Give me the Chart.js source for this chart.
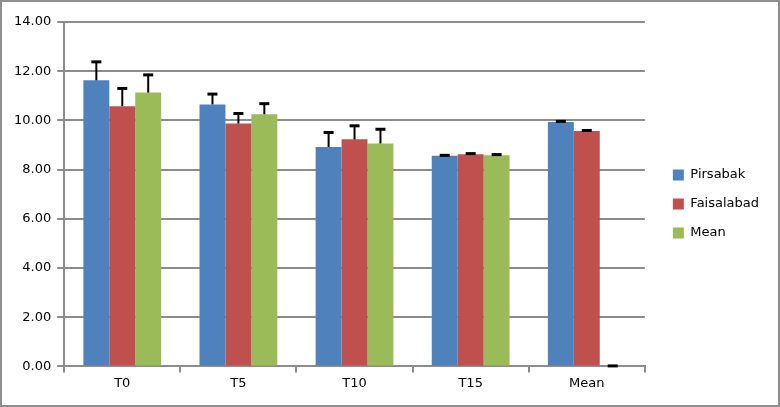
<!DOCTYPE html>
<html>
<head>
<meta charset="utf-8">
<script src="https://cdn.jsdelivr.net/npm/chart.js@4.4.1/dist/chart.umd.min.js"></script>
<style>
    html, body { margin: 0; padding: 0; background: #fff; }
    #wrap {
        position: relative;
        width: 780px;
        height: 407px;
        box-sizing: border-box;
        border: 2px solid #8f8f8f;
    }
</style>
</head>
<body>
<div id="wrap"><canvas id="chart"></canvas></div>
<script>
// categories and series
const categories = ["T0", "T5", "T10", "T15", "Mean"];

const pirsabak = [11.63, 10.65, 8.92, 8.56, 9.94];
const faisalabad = [10.58, 9.87, 9.23, 8.62, 9.57];
const meanValues = [11.13, 10.25, 9.06, 8.58, 0];

// upper error amounts
const pirsabakErr = [0.75, 0.42, 0.59, 0.02, 0.02];
const faisalabadErr = [0.72, 0.41, 0.55, 0.03, 0.02];
const meanErr = [0.72, 0.43, 0.58, 0.03, 0.02];

const yTicks = [0, 2, 4, 6, 8, 10, 12, 14];

const errors = [pirsabakErr, faisalabadErr, meanErr];

// draws the upper error bar with a cap on every bar
const errorBars = {
    id: "errorBars",
    afterDatasetsDraw(chart) {
        const ctx = chart.ctx;
        const y = chart.scales.y;
        ctx.save();
        ctx.strokeStyle = "#000";
        chart.data.datasets.forEach((ds, i) => {
            const meta = chart.getDatasetMeta(i);
            meta.data.forEach((bar, j) => {
                const top = y.getPixelForValue(ds.data[j] + errors[i][j]);
                ctx.lineWidth = 2;
                ctx.beginPath();
                ctx.moveTo(bar.x, bar.y);
                ctx.lineTo(bar.x, top);
                ctx.stroke();
                ctx.lineWidth = 3;
                ctx.beginPath();
                ctx.moveTo(bar.x - 5, top);
                ctx.lineTo(bar.x + 5, top);
                ctx.stroke();
            });
        });
        ctx.restore();
    },
};

// push the legend a bit further away from the plot
const legendGap = {
    id: "legendGap",
    afterLayout(chart) {
        chart.legend.left += 12;
        chart.legend.right += 12;
        chart.legend.top -= 4;
        chart.legend.bottom -= 4;
    },
};

const gridGray = "#8c8c8c";
const font = { family: "DejaVu Sans", size: 13 };

new Chart(document.getElementById("chart").getContext("2d"), {
    type: "bar",
    data: {
        labels: categories,
        datasets: [
            { label: "Pirsabak", data: pirsabak, backgroundColor: "#4f81bd" },
            { label: "Faisalabad", data: faisalabad, backgroundColor: "#c0504d" },
            { label: "Mean", data: meanValues, backgroundColor: "#9bbb59" },
        ],
    },
    options: {
        responsive: true,
        maintainAspectRatio: false,
        animation: false,
        datasets: {
            bar: { categoryPercentage: 0.67, barPercentage: 1.0 },
        },
        layout: { padding: { top: 20, left: 6, right: 21, bottom: 11 } },
        scales: {
            x: {
                grid: {
                    offset: true,
                    drawOnChartArea: false,
                    drawTicks: true,
                    tickLength: 6,
                    color: gridGray,
                    lineWidth: 2,
                },
                border: { color: gridGray, width: 2 },
                ticks: { color: "#000", font: font, padding: 3 },
            },
            y: {
                min: 0,
                max: 14,
                afterBuildTicks: (scale) => {
                    scale.ticks = yTicks.map((v) => ({ value: v }));
                },
                grid: { color: gridGray, lineWidth: 2, tickLength: 7 },
                border: { color: gridGray, width: 2 },
                ticks: {
                    color: "#000",
                    font: font,
                    padding: 6,
                    callback: (v) => Number(v).toFixed(2),
                },
            },
        },
        plugins: {
            legend: {
                position: "right",
                labels: {
                    color: "#000",
                    font: font,
                    boxWidth: 11,
                    boxHeight: 11,
                    padding: 16,
                },
            },
            tooltip: { enabled: false },
        },
    },
    plugins: [errorBars, legendGap],
});
</script>
</body>
</html>
